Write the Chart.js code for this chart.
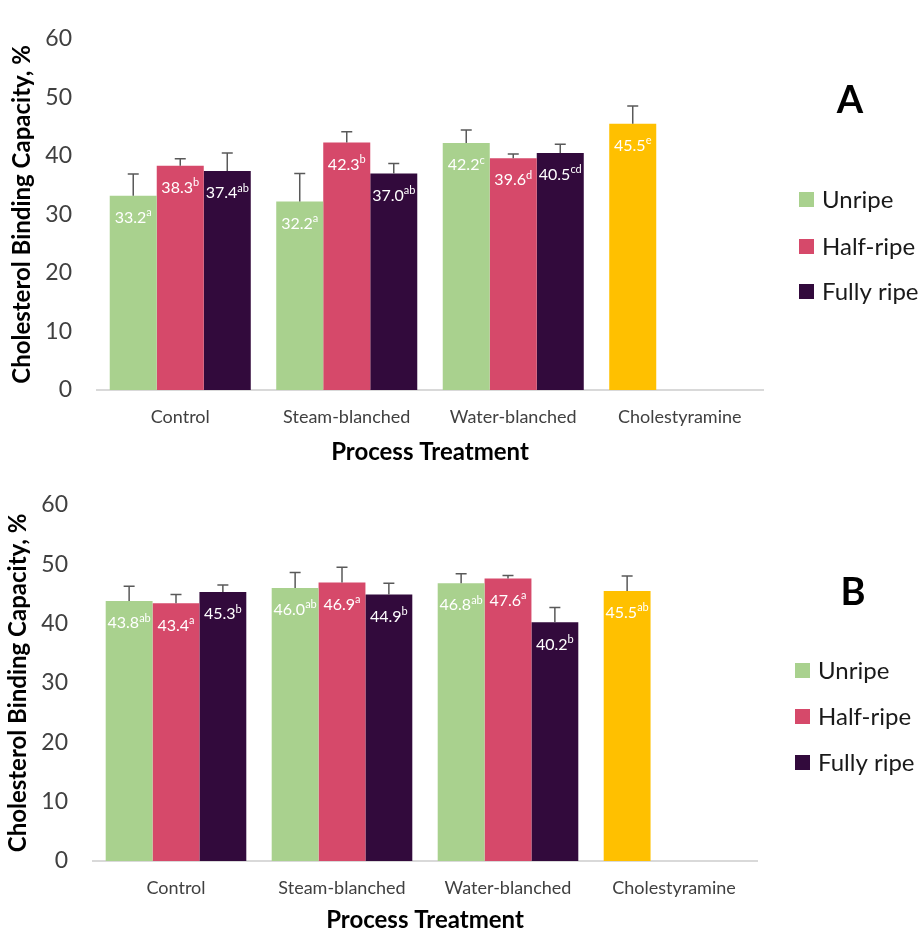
<!DOCTYPE html>
<html>
<head>
<meta charset="utf-8">
<title>Cholesterol Binding Capacity</title>
<script src="https://cdn.jsdelivr.net/npm/chart.js@4.4.0/dist/chart.umd.min.js"></script>
<style>
  html, body { margin: 0; padding: 0; background: #fff; }
  canvas { display: block; }
</style>
</head>
<body>
<canvas id="graficoA" width="922" height="466"></canvas>
<canvas id="graficoB" width="922" height="466"></canvas>
<script>
var categories = ['Control', 'Steam-blanched', 'Water-blanched', 'Cholestyramine'];
var seriesNames = ['Unripe', 'Half-ripe', 'Fully ripe'];
var yTicks = [0, 10, 20, 30, 40, 50, 60];

// panel A - means, standard deviations, significance letters
var unripeA = [33.2, 32.2, 42.2, 45.5];
var halfA = [38.3, 42.3, 39.6, null];
var fullyA = [37.4, 37.0, 40.5, null];
var unripeSdA = [3.7, 4.8, 2.2, 3.0];
var halfSdA = [1.2, 1.8, 0.7, null];
var fullySdA = [3.1, 1.7, 1.5, null];
var unripeLetA = ['a', 'a', 'c', 'e'];
var halfLetA = ['b', 'b', 'd', ''];
var fullyLetA = ['ab', 'ab', 'cd', ''];

// panel B
var unripeB = [43.8, 46.0, 46.8, 45.5];
var halfB = [43.4, 46.9, 47.6, null];
var fullyB = [45.3, 44.9, 40.2, null];
var unripeSdB = [2.5, 2.6, 1.6, 2.5];
var halfSdB = [1.5, 2.6, 0.5, null];
var fullySdB = [1.2, 1.9, 2.5, null];
var unripeLetB = ['ab', 'ab', 'ab', 'ab'];
var halfLetB = ['a', 'a', 'a', ''];
var fullyLetB = ['b', 'b', 'b', ''];

var corSerie = ['#A9D18E', '#D6496A', '#320A3C'];
var corControle = '#FFC000';

Chart.defaults.font.family = 'Lato, "Open Sans", sans-serif';

// error bars + white value labels inside the bars
var barExtras = {
	id: 'barExtras',
	afterDatasetsDraw: function(chart) {
		var ctx = chart.ctx;
		var y = chart.scales.y;
		chart.data.datasets.forEach(function(ds, i) {
			var meta = chart.getDatasetMeta(i);
			meta.data.forEach(function(bar, j) {
				var v = ds.data[j];
				if (v == null) return;
				var top = y.getPixelForValue(v + ds.sd[j]);
				ctx.save();
				ctx.strokeStyle = '#595959';
				ctx.lineWidth = 1.5;
				ctx.beginPath();
				ctx.moveTo(bar.x, bar.y);
				ctx.lineTo(bar.x, top);
				ctx.moveTo(bar.x - 5.5, top);
				ctx.lineTo(bar.x + 5.5, top);
				ctx.stroke();

				var txt = v.toFixed(1), sup = ds.letters[j];
				ctx.font = '16px Lato';
				var w1 = ctx.measureText(txt).width;
				ctx.font = '11px Lato';
				var w2 = ctx.measureText(sup).width;
				var x0 = bar.x - (w1 + w2) / 2;
				var ly = bar.y + 22;
				ctx.fillStyle = '#ffffff';
				ctx.textAlign = 'left';
				ctx.textBaseline = 'middle';
				ctx.font = '16px Lato';
				ctx.fillText(txt, x0, ly);
				ctx.font = '11px Lato';
				ctx.fillText(sup, x0 + w1, ly - 5);
				ctx.restore();
			});
		});
	}
};

// legend on the right and the panel letter
var panelLegend = {
	id: 'panelLegend',
	afterDraw: function(chart, args, opts) {
		var ctx = chart.ctx;
		ctx.save();
		ctx.textAlign = 'left';
		ctx.textBaseline = 'middle';
		opts.rows.forEach(function(ry, i) {
			ctx.fillStyle = corSerie[i];
			ctx.fillRect(opts.x, ry - 8, 15, 15);
			ctx.fillStyle = '#1a1a1a';
			ctx.font = '24px Lato';
			ctx.fillText(seriesNames[i], opts.x + 23, ry);
		});
		ctx.fillStyle = '#000';
		ctx.font = 'bold 38px Lato';
		ctx.textAlign = 'center';
		ctx.fillText(opts.letter, opts.letterX, opts.letterY);
		ctx.restore();
	}
};

var painel = painel || {};

painel.Grafico = (function() {
	function Grafico(cfg) {
		this.cfg = cfg;
		this.ctx = document.getElementById(cfg.canvas).getContext('2d');
	}

	Grafico.prototype.iniciar = function() {
		var c = this.cfg;
		var cores = c.valores[0].map(function(v, j) {
			return j === categories.length - 1 ? corControle : corSerie[0];
		});
		return new Chart(this.ctx, {
			type: 'bar',
			data: {
				labels: categories,
				datasets: seriesNames.map(function(nome, i) {
					return {
						label: nome,
						data: c.valores[i],
						sd: c.desvios[i],
						letters: c.letras[i],
						backgroundColor: i === 0 ? cores : corSerie[i],
						borderWidth: 0,
						barPercentage: 1,
						categoryPercentage: 0.847
					};
				})
			},
			options: {
				responsive: false,
				animation: false,
				layout: { padding: { top: c.top, right: c.right, bottom: 0, left: 0 } },
				plugins: {
					legend: { display: false },
					tooltip: { enabled: false },
					panelLegend: { rows: c.legendRows, x: c.legendX, letter: c.letra, letterX: c.letraX, letterY: c.letraY }
				},
				scales: {
					x: {
						grid: { display: false, drawTicks: false },
						border: { display: true, color: '#D9D9D9', width: 2 },
						ticks: { color: '#404040', font: { size: 18 }, padding: 16, maxRotation: 0, autoSkip: false },
						title: { display: true, text: 'Process Treatment', color: '#000', font: { size: 24, weight: 'bold', lineHeight: 1 }, padding: { top: 0, bottom: c.xTitlePad } },
						afterFit: function(axis) { axis.height = c.xHeight; }
					},
					y: {
						min: yTicks[0],
						max: yTicks[yTicks.length - 1],
						grid: { display: false, drawTicks: false },
						border: { display: false },
						ticks: { stepSize: yTicks[1] - yTicks[0], color: '#404040', font: { size: 23 }, padding: 25 },
						title: { display: true, text: 'Cholesterol Binding Capacity, %', color: '#000', font: { size: 24, weight: 'bold', lineHeight: 1 }, padding: { top: c.yTitlePad, bottom: 0 } },
						afterFit: function(axis) { axis.width = c.yWidth; }
					}
				}
			},
			plugins: [barExtras, panelLegend]
		});
	};

	return Grafico;
}());

var graficoA = new painel.Grafico({
	canvas: 'graficoA', letra: 'A', letraX: 850, letraY: 101,
	valores: [unripeA, halfA, fullyA],
	desvios: [unripeSdA, halfSdA, fullySdA],
	letras: [unripeLetA, halfLetA, fullyLetA],
	top: 24, right: 159, yWidth: 97, xHeight: 76, xTitlePad: 2, yTitlePad: 10,
	legendX: 799, legendRows: [200, 247, 292]
});
var graficoB = new painel.Grafico({
	canvas: 'graficoB', letra: 'B', letraX: 853, letraY: 127,
	valores: [unripeB, halfB, fullyB],
	desvios: [unripeSdB, halfSdB, fullySdB],
	letras: [unripeLetB, halfLetB, fullyLetB],
	top: 28, right: 165, yWidth: 93, xHeight: 71, xTitlePad: 0, yTitlePad: 6,
	legendX: 795, legendRows: [205, 251, 297]
});
graficoA.iniciar();
graficoB.iniciar();
</script>
</body>
</html>
